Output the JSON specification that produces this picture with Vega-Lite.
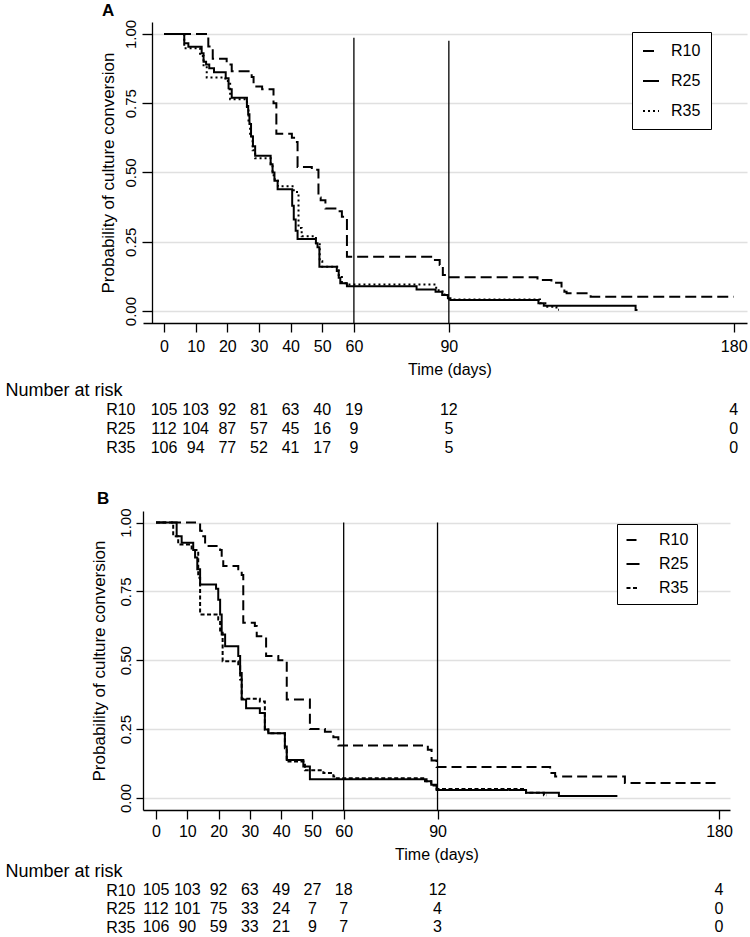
{
  "$schema": "https://vega.github.io/schema/vega-lite/v6.json",
  "background": "white",
  "padding": {"left": 5, "top": 2, "right": 0, "bottom": 0},
  "spacing": 56,
  "bounds": "flush",
  "config": {
    "font": "Liberation Sans",
    "view": {"stroke": null},
    "axis": {"labelColor": "black", "titleColor": "black", "domainColor": "black", "tickColor": "black", "titleFontWeight": "normal", "labelFont": "Liberation Sans", "titleFont": "Liberation Sans"},
    "legend": {"labelFont": "Liberation Sans"},
    "title": {"font": "Liberation Sans", "color": "black"}
  },
  "resolve": {"scale": {"x": "independent", "y": "independent", "strokeDash": "independent"}, "legend": {"strokeDash": "independent"}, "axis": {"x": "independent", "y": "independent"}},
  "datasets": {
    "kmA": [
      {"group": "R10", "time": 0, "surv": 1}, {"group": "R10", "time": 14, "surv": 0.955}, {"group": "R10", "time": 15.4, "surv": 0.91}, {"group": "R10", "time": 19.8, "surv": 0.89}, {"group": "R10", "time": 21.4, "surv": 0.865}, {"group": "R10", "time": 27.7, "surv": 0.845}, {"group": "R10", "time": 28.3, "surv": 0.81}, {"group": "R10", "time": 31, "surv": 0.8}, {"group": "R10", "time": 34.6, "surv": 0.75}, {"group": "R10", "time": 35.5, "surv": 0.64}, {"group": "R10", "time": 40.4, "surv": 0.625}, {"group": "R10", "time": 41.5, "surv": 0.61}, {"group": "R10", "time": 42.2, "surv": 0.52}, {"group": "R10", "time": 46.7, "surv": 0.51}, {"group": "R10", "time": 48.8, "surv": 0.41}, {"group": "R10", "time": 49.5, "surv": 0.4}, {"group": "R10", "time": 51, "surv": 0.37}, {"group": "R10", "time": 54.6, "surv": 0.36}, {"group": "R10", "time": 56.2, "surv": 0.34}, {"group": "R10", "time": 57.8, "surv": 0.196}, {"group": "R10", "time": 85.6, "surv": 0.184}, {"group": "R10", "time": 87.1, "surv": 0.166}, {"group": "R10", "time": 88.1, "surv": 0.13}, {"group": "R10", "time": 89.7, "surv": 0.122}, {"group": "R10", "time": 118, "surv": 0.112}, {"group": "R10", "time": 122.4, "surv": 0.102}, {"group": "R10", "time": 125.6, "surv": 0.078}, {"group": "R10", "time": 126.5, "surv": 0.07}, {"group": "R10", "time": 127.2, "surv": 0.064}, {"group": "R10", "time": 134.8, "surv": 0.052}, {"group": "R10", "time": 180, "surv": 0.052},
      {"group": "R25", "time": 0, "surv": 1}, {"group": "R25", "time": 6.4, "surv": 0.966}, {"group": "R25", "time": 7.7, "surv": 0.954}, {"group": "R25", "time": 11.9, "surv": 0.93}, {"group": "R25", "time": 12.5, "surv": 0.9}, {"group": "R25", "time": 13.3, "surv": 0.89}, {"group": "R25", "time": 14.3, "surv": 0.876}, {"group": "R25", "time": 15.8, "surv": 0.862}, {"group": "R25", "time": 19.5, "surv": 0.84}, {"group": "R25", "time": 20.4, "surv": 0.8}, {"group": "R25", "time": 21.4, "surv": 0.77}, {"group": "R25", "time": 26.2, "surv": 0.74}, {"group": "R25", "time": 26.6, "surv": 0.71}, {"group": "R25", "time": 27, "surv": 0.675}, {"group": "R25", "time": 27.5, "surv": 0.63}, {"group": "R25", "time": 28.1, "surv": 0.595}, {"group": "R25", "time": 28.8, "surv": 0.56}, {"group": "R25", "time": 33.7, "surv": 0.53}, {"group": "R25", "time": 34.3, "surv": 0.5}, {"group": "R25", "time": 34.9, "surv": 0.47}, {"group": "R25", "time": 35.9, "surv": 0.44}, {"group": "R25", "time": 40.5, "surv": 0.38}, {"group": "R25", "time": 41, "surv": 0.33}, {"group": "R25", "time": 41.6, "surv": 0.29}, {"group": "R25", "time": 42.2, "surv": 0.26}, {"group": "R25", "time": 48, "surv": 0.245}, {"group": "R25", "time": 48.5, "surv": 0.23}, {"group": "R25", "time": 49.1, "surv": 0.16}, {"group": "R25", "time": 54.6, "surv": 0.145}, {"group": "R25", "time": 55.2, "surv": 0.12}, {"group": "R25", "time": 55.7, "surv": 0.1}, {"group": "R25", "time": 57.8, "surv": 0.09}, {"group": "R25", "time": 79.8, "surv": 0.078}, {"group": "R25", "time": 85.8, "surv": 0.07}, {"group": "R25", "time": 87.9, "surv": 0.058}, {"group": "R25", "time": 89.7, "surv": 0.046}, {"group": "R25", "time": 90.5, "surv": 0.04}, {"group": "R25", "time": 118.3, "surv": 0.028}, {"group": "R25", "time": 120, "surv": 0.019}, {"group": "R25", "time": 149, "surv": 0.004}, {"group": "R25", "time": 149.6, "surv": 0.004},
      {"group": "R35", "time": 0, "surv": 1}, {"group": "R35", "time": 6.4, "surv": 0.948}, {"group": "R35", "time": 11.4, "surv": 0.92}, {"group": "R35", "time": 12.5, "surv": 0.88}, {"group": "R35", "time": 13.5, "surv": 0.843}, {"group": "R35", "time": 19.4, "surv": 0.83}, {"group": "R35", "time": 20.9, "surv": 0.764}, {"group": "R35", "time": 26.2, "surv": 0.73}, {"group": "R35", "time": 26.7, "surv": 0.68}, {"group": "R35", "time": 27.2, "surv": 0.63}, {"group": "R35", "time": 28, "surv": 0.58}, {"group": "R35", "time": 28.8, "surv": 0.551}, {"group": "R35", "time": 33.7, "surv": 0.53}, {"group": "R35", "time": 34.3, "surv": 0.49}, {"group": "R35", "time": 35, "surv": 0.47}, {"group": "R35", "time": 36, "surv": 0.45}, {"group": "R35", "time": 41, "surv": 0.43}, {"group": "R35", "time": 42.5, "surv": 0.3}, {"group": "R35", "time": 43.5, "surv": 0.27}, {"group": "R35", "time": 48, "surv": 0.245}, {"group": "R35", "time": 49.2, "surv": 0.18}, {"group": "R35", "time": 50, "surv": 0.16}, {"group": "R35", "time": 55.2, "surv": 0.13}, {"group": "R35", "time": 56.2, "surv": 0.1}, {"group": "R35", "time": 57.5, "surv": 0.096}, {"group": "R35", "time": 86, "surv": 0.075}, {"group": "R35", "time": 88, "surv": 0.06}, {"group": "R35", "time": 89.7, "surv": 0.042}, {"group": "R35", "time": 118.8, "surv": 0.028}, {"group": "R35", "time": 120.5, "surv": 0.016}, {"group": "R35", "time": 124, "surv": 0.005}, {"group": "R35", "time": 124.8, "surv": 0.005}
    ],
    "kmB": [
      {"group": "R10", "time": 0, "surv": 1}, {"group": "R10", "time": 14.1, "surv": 0.97}, {"group": "R10", "time": 14.6, "surv": 0.95}, {"group": "R10", "time": 15.7, "surv": 0.915}, {"group": "R10", "time": 20.5, "surv": 0.9}, {"group": "R10", "time": 21, "surv": 0.866}, {"group": "R10", "time": 21.5, "surv": 0.842}, {"group": "R10", "time": 26.3, "surv": 0.83}, {"group": "R10", "time": 27.4, "surv": 0.81}, {"group": "R10", "time": 27.9, "surv": 0.636}, {"group": "R10", "time": 31.6, "surv": 0.624}, {"group": "R10", "time": 32.2, "surv": 0.587}, {"group": "R10", "time": 35.2, "surv": 0.515}, {"group": "R10", "time": 39.1, "surv": 0.5}, {"group": "R10", "time": 41.8, "surv": 0.357}, {"group": "R10", "time": 49.2, "surv": 0.25}, {"group": "R10", "time": 54, "surv": 0.24}, {"group": "R10", "time": 56.7, "surv": 0.22}, {"group": "R10", "time": 58.3, "surv": 0.19}, {"group": "R10", "time": 86.9, "surv": 0.175}, {"group": "R10", "time": 88.1, "surv": 0.136}, {"group": "R10", "time": 89.7, "surv": 0.112}, {"group": "R10", "time": 126, "surv": 0.09}, {"group": "R10", "time": 127.6, "surv": 0.078}, {"group": "R10", "time": 149.9, "surv": 0.054}, {"group": "R10", "time": 179.5, "surv": 0.054},
      {"group": "R25", "time": 0, "surv": 1}, {"group": "R25", "time": 6.6, "surv": 0.95}, {"group": "R25", "time": 8.2, "surv": 0.927}, {"group": "R25", "time": 11.9, "surv": 0.9}, {"group": "R25", "time": 12.5, "surv": 0.873}, {"group": "R25", "time": 13.2, "surv": 0.83}, {"group": "R25", "time": 14.1, "surv": 0.775}, {"group": "R25", "time": 19.2, "surv": 0.76}, {"group": "R25", "time": 19.9, "surv": 0.72}, {"group": "R25", "time": 20.5, "surv": 0.666}, {"group": "R25", "time": 21, "surv": 0.593}, {"group": "R25", "time": 22.1, "surv": 0.551}, {"group": "R25", "time": 26.3, "surv": 0.515}, {"group": "R25", "time": 26.9, "surv": 0.454}, {"group": "R25", "time": 27.4, "surv": 0.357}, {"group": "R25", "time": 28.8, "surv": 0.326}, {"group": "R25", "time": 33.2, "surv": 0.308}, {"group": "R25", "time": 34.8, "surv": 0.248}, {"group": "R25", "time": 35.9, "surv": 0.235}, {"group": "R25", "time": 41.2, "surv": 0.187}, {"group": "R25", "time": 41.8, "surv": 0.138}, {"group": "R25", "time": 47.1, "surv": 0.114}, {"group": "R25", "time": 49.2, "surv": 0.068}, {"group": "R25", "time": 86.5, "surv": 0.06}, {"group": "R25", "time": 88, "surv": 0.048}, {"group": "R25", "time": 89.7, "surv": 0.029}, {"group": "R25", "time": 118.3, "surv": 0.019}, {"group": "R25", "time": 128.8, "surv": 0.007}, {"group": "R25", "time": 147.5, "surv": 0.007},
      {"group": "R35", "time": 0, "surv": 1}, {"group": "R35", "time": 5.5, "surv": 0.95}, {"group": "R35", "time": 7.1, "surv": 0.92}, {"group": "R35", "time": 11.4, "surv": 0.9}, {"group": "R35", "time": 13.5, "surv": 0.8}, {"group": "R35", "time": 14.1, "surv": 0.666}, {"group": "R35", "time": 19.9, "surv": 0.648}, {"group": "R35", "time": 20.5, "surv": 0.6}, {"group": "R35", "time": 21.3, "surv": 0.496}, {"group": "R35", "time": 26.3, "surv": 0.478}, {"group": "R35", "time": 26.9, "surv": 0.43}, {"group": "R35", "time": 27.4, "surv": 0.36}, {"group": "R35", "time": 33.2, "surv": 0.35}, {"group": "R35", "time": 34.8, "surv": 0.248}, {"group": "R35", "time": 35.9, "surv": 0.235}, {"group": "R35", "time": 41.2, "surv": 0.18}, {"group": "R35", "time": 41.8, "surv": 0.132}, {"group": "R35", "time": 47.6, "surv": 0.1}, {"group": "R35", "time": 53.5, "surv": 0.09}, {"group": "R35", "time": 56.7, "surv": 0.078}, {"group": "R35", "time": 57.8, "surv": 0.071}, {"group": "R35", "time": 86, "surv": 0.06}, {"group": "R35", "time": 88, "surv": 0.045}, {"group": "R35", "time": 89.7, "surv": 0.032}, {"group": "R35", "time": 118.3, "surv": 0.019}, {"group": "R35", "time": 124, "surv": 0.01}, {"group": "R35", "time": 124.9, "surv": 0.01}
    ],
    "refA": [{"time": 60, "top": 0.986}, {"time": 90, "top": 0.975}],
    "refB": [{"time": 60, "top": 1}, {"time": 90, "top": 1}],
    "riskA": [
      {"group": "R10", "time": 0, "n": 105}, {"group": "R10", "time": 10, "n": 103}, {"group": "R10", "time": 20, "n": 92}, {"group": "R10", "time": 30, "n": 81}, {"group": "R10", "time": 40, "n": 63}, {"group": "R10", "time": 50, "n": 40}, {"group": "R10", "time": 60, "n": 19}, {"group": "R10", "time": 90, "n": 12}, {"group": "R10", "time": 180, "n": 4},
      {"group": "R25", "time": 0, "n": 112}, {"group": "R25", "time": 10, "n": 104}, {"group": "R25", "time": 20, "n": 87}, {"group": "R25", "time": 30, "n": 57}, {"group": "R25", "time": 40, "n": 45}, {"group": "R25", "time": 50, "n": 16}, {"group": "R25", "time": 60, "n": 9}, {"group": "R25", "time": 90, "n": 5}, {"group": "R25", "time": 180, "n": 0},
      {"group": "R35", "time": 0, "n": 106}, {"group": "R35", "time": 10, "n": 94}, {"group": "R35", "time": 20, "n": 77}, {"group": "R35", "time": 30, "n": 52}, {"group": "R35", "time": 40, "n": 41}, {"group": "R35", "time": 50, "n": 17}, {"group": "R35", "time": 60, "n": 9}, {"group": "R35", "time": 90, "n": 5}, {"group": "R35", "time": 180, "n": 0}
    ],
    "riskB": [
      {"group": "R10", "time": 0, "n": 105}, {"group": "R10", "time": 10, "n": 103}, {"group": "R10", "time": 20, "n": 92}, {"group": "R10", "time": 30, "n": 63}, {"group": "R10", "time": 40, "n": 49}, {"group": "R10", "time": 50, "n": 27}, {"group": "R10", "time": 60, "n": 18}, {"group": "R10", "time": 90, "n": 12}, {"group": "R10", "time": 180, "n": 4},
      {"group": "R25", "time": 0, "n": 112}, {"group": "R25", "time": 10, "n": 101}, {"group": "R25", "time": 20, "n": 75}, {"group": "R25", "time": 30, "n": 33}, {"group": "R25", "time": 40, "n": 24}, {"group": "R25", "time": 50, "n": 7}, {"group": "R25", "time": 60, "n": 7}, {"group": "R25", "time": 90, "n": 4}, {"group": "R25", "time": 180, "n": 0},
      {"group": "R35", "time": 0, "n": 106}, {"group": "R35", "time": 10, "n": 90}, {"group": "R35", "time": 20, "n": 59}, {"group": "R35", "time": 30, "n": 33}, {"group": "R35", "time": 40, "n": 21}, {"group": "R35", "time": 50, "n": 9}, {"group": "R35", "time": 60, "n": 7}, {"group": "R35", "time": 90, "n": 3}, {"group": "R35", "time": 180, "n": 0}
    ]
  },
  "vconcat": [
    {
      "width": 604, "height": 301,
      "title": {"text": "A", "anchor": "start", "frame": "group", "dx": -41, "offset": -14, "fontSize": 17, "fontWeight": "bold", "baseline": "alphabetic"},
      "layer": [
        {
          "data": {"name": "kmA"},
          "mark": {"type": "line", "interpolate": "step-after", "strokeWidth": 2, "color": "black"},
          "encoding": {
            "x": {"field": "time", "type": "quantitative", "scale": {"domain": [-6.635, 184.2], "nice": false, "zero": false},
              "axis": {"values": [0, 10, 20, 30, 40, 50, 60, 90, 180], "grid": false, "tickSize": 9, "tickWidth": 1.3, "domainWidth": 1.3, "labelFontSize": 16, "labelBaseline": "alphabetic", "labelPadding": 19.5, "labelFlush": false, "title": "Time (days)", "titleFontSize": 16, "titleX": 306.5, "titleY": 51.5, "titleAlign": "center", "titleBaseline": "alphabetic"}},
            "y": {"field": "surv", "type": "quantitative", "scale": {"domain": [-0.043, 1.043], "nice": false, "zero": false},
              "axis": {"values": [0, 0.25, 0.5, 0.75, 1], "format": ".2f", "offset": -9, "grid": true, "gridColor": "#e0e0e0", "gridWidth": 1.3, "tickSize": 10, "tickWidth": 1.3, "domainWidth": 1.3, "labelAngle": 270, "labelAlign": "center", "labelBaseline": "alphabetic", "labelFontSize": 15, "labelPadding": 7, "labelFlush": false, "title": "Probability of culture conversion", "titleFontSize": 17, "titleAngle": 270, "titleX": -39, "titleY": 150.5, "titleAlign": "center", "titleBaseline": "alphabetic"}},
            "strokeDash": {"field": "group", "type": "nominal", "scale": {"domain": ["R10", "R25", "R35"], "range": [[11, 5], [1, 0], [2, 3]]},
              "legend": {"title": null, "orient": "none", "legendX": 489, "legendY": 10, "strokeColor": "black", "fillColor": "white", "padding": 10, "symbolType": "stroke", "symbolSize": 256, "symbolStrokeWidth": 2, "symbolStrokeColor": "black", "labelFontSize": 16, "labelColor": "black", "labelOffset": 11, "rowPadding": 13, "cornerRadius": 0}}
          }
        },
        {
          "data": {"name": "refA"},
          "mark": {"type": "rule", "color": "black", "strokeWidth": 1.3},
          "encoding": {
            "x": {"field": "time", "type": "quantitative", "title": "Time (days)", "scale": {"domain": [-6.635, 184.2], "nice": false, "zero": false}},
            "y": {"field": "top", "type": "quantitative", "title": "Probability of culture conversion", "scale": {"domain": [-0.043, 1.043], "nice": false, "zero": false}},
            "y2": {"datum": -0.043}
          }
        }
      ]
    },
    {
      "width": 604, "height": 76,
      "data": {"name": "riskA"},
      "mark": {"type": "text", "fontSize": 16, "baseline": "alphabetic", "align": "center", "color": "black"},
      "encoding": {
        "x": {"field": "time", "type": "quantitative", "scale": {"domain": [-6.635, 184.2], "nice": false, "zero": false}, "axis": null},
        "y": {"field": "group", "type": "nominal", "sort": ["R10", "R25", "R35"], "scale": {"type": "point", "padding": 1, "align": 0.947},
          "axis": {"domain": false, "ticks": false, "tickSize": 0, "grid": false, "labelFontSize": 16, "labelBaseline": "alphabetic", "labelPadding": 8, "labelAlign": "right", "title": "Number at risk", "titleFontSize": 18, "titleAngle": 0, "titleAlign": "left", "titleBaseline": "alphabetic", "titleX": -138, "titleY": 16}},
        "text": {"field": "n", "type": "quantitative"}
      }
    },
    {
      "width": 587, "height": 299,
      "title": {"text": "B", "anchor": "start", "frame": "group", "dx": -46, "offset": -13.5, "fontSize": 17, "fontWeight": "bold", "baseline": "alphabetic"},
      "layer": [
        {
          "data": {"name": "kmB"},
          "mark": {"type": "line", "interpolate": "step-after", "strokeWidth": 2, "color": "black"},
          "encoding": {
            "x": {"field": "time", "type": "quantitative", "scale": {"domain": [-4.156, 183.5], "nice": false, "zero": false},
              "axis": {"values": [0, 10, 20, 30, 40, 50, 60, 90, 180], "grid": false, "tickSize": 9, "tickWidth": 1.3, "domainWidth": 1.3, "labelFontSize": 16, "labelBaseline": "alphabetic", "labelPadding": 17.5, "labelFlush": false, "title": "Time (days)", "titleFontSize": 16, "titleX": 293.5, "titleY": 49.5, "titleAlign": "center", "titleBaseline": "alphabetic"}},
            "y": {"field": "surv", "type": "quantitative", "scale": {"domain": [-0.044, 1.042], "nice": false, "zero": false},
              "axis": {"values": [0, 0.25, 0.5, 0.75, 1], "format": ".2f", "grid": true, "gridColor": "#e0e0e0", "gridWidth": 1.3, "tickSize": 7, "tickWidth": 1.3, "domainWidth": 1.3, "labelAngle": 270, "labelAlign": "center", "labelBaseline": "alphabetic", "labelFontSize": 15, "labelPadding": 6, "labelFlush": false, "title": "Probability of culture conversion", "titleFontSize": 17, "titleAngle": 270, "titleX": -39, "titleY": 149.5, "titleAlign": "center", "titleBaseline": "alphabetic"}},
            "strokeDash": {"field": "group", "type": "nominal", "scale": {"domain": ["R10", "R25", "R35"], "range": [[10, 5], [1, 0], [4, 2.5]]},
              "legend": {"title": null, "orient": "none", "legendX": 474, "legendY": 13, "strokeColor": "black", "fillColor": "white", "padding": 8, "symbolType": "stroke", "symbolSize": 169, "symbolStrokeWidth": 2, "symbolStrokeColor": "black", "labelFontSize": 16, "labelColor": "black", "labelOffset": 18, "rowPadding": 8, "cornerRadius": 0}}
          }
        },
        {
          "data": {"name": "refB"},
          "mark": {"type": "rule", "color": "black", "strokeWidth": 1.3},
          "encoding": {
            "x": {"field": "time", "type": "quantitative", "title": "Time (days)", "scale": {"domain": [-4.156, 183.5], "nice": false, "zero": false}},
            "y": {"field": "top", "type": "quantitative", "title": "Probability of culture conversion", "scale": {"domain": [-0.044, 1.042], "nice": false, "zero": false}},
            "y2": {"datum": -0.044}
          }
        }
      ]
    },
    {
      "width": 587, "height": 74,
      "data": {"name": "riskB"},
      "mark": {"type": "text", "fontSize": 16, "baseline": "alphabetic", "align": "center", "color": "black"},
      "encoding": {
        "x": {"field": "time", "type": "quantitative", "scale": {"domain": [-4.156, 183.5], "nice": false, "zero": false}, "axis": null},
        "y": {"field": "group", "type": "nominal", "sort": ["R10", "R25", "R35"], "scale": {"type": "point", "padding": 1, "align": 0.784},
          "axis": {"domain": false, "ticks": false, "tickSize": 0, "grid": false, "labelFontSize": 16, "labelBaseline": "alphabetic", "labelPadding": 8, "labelAlign": "right", "title": "Number at risk", "titleFontSize": 18, "titleAngle": 0, "titleAlign": "left", "titleBaseline": "alphabetic", "titleX": -138, "titleY": 10}},
        "text": {"field": "n", "type": "quantitative"}
      }
    }
  ]
}
